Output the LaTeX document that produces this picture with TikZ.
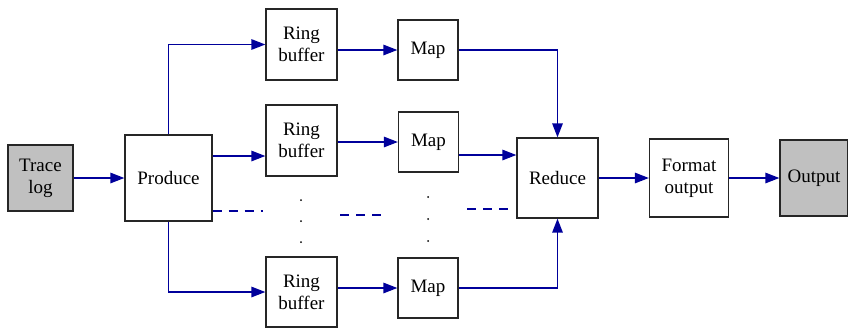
\documentclass[tikz,border=0pt]{standalone}
\usepackage{fontspec}
\setmainfont{Liberation Serif}
\usetikzlibrary{positioning}
\usetikzlibrary{arrows.meta}
\definecolor{flowBlue}{RGB}{0,0,155}
\definecolor{boxGray}{RGB}{192,192,192}
\tikzset{
	stageBox/.style={rectangle, draw=black!85, line width=1.3pt, align=center, inner sep=0pt, font=\fontsize{19}{22}\selectfont},
	ioBox/.style={stageBox, fill=boxGray},
	flow/.style={draw=flowBlue, line width=1.4pt, -{Triangle[length=14pt, width=10.5pt]}},
	gapLine/.style={draw=flowBlue, line width=1.4pt, dash pattern=on 9pt off 7pt},
	gapDot/.style={fill=black, draw=none, circle, inner sep=0pt, minimum size=2pt}
}

\begin{document}
\begin{tikzpicture}[x=1pt, y=-1pt]
	\useasboundingbox (0,0) rectangle (848,327);

	\node[ioBox, minimum width=65pt, minimum height=66pt](traceLog) at (40.5,178){Trace\\log};
	\node[stageBox, minimum width=87pt, minimum height=86pt](produce) at (168.5,178){Produce};

	\node[stageBox, minimum width=71pt, minimum height=71pt](ringBuf1) at (301.5,44.5){Ring\\buffer};
	\node[stageBox, minimum width=60pt, minimum height=60pt](map1) at (428,50){Map};

	\node[stageBox, minimum width=71pt, minimum height=71pt](ringBuf2) at (301.5,140.5){Ring\\buffer};
	\node[stageBox, minimum width=60pt, minimum height=60pt](map2) at (428.5,142){Map};

	\node[stageBox, minimum width=71pt, minimum height=70pt](ringBuf3) at (301.5,292){Ring\\buffer};
	\node[stageBox, minimum width=60pt, minimum height=60pt](map3) at (428,288){Map};

	\node[stageBox, minimum width=81pt, minimum height=80pt](reduce) at (557.5,178){Reduce};
	\node[stageBox, minimum width=79pt, minimum height=78pt](formatOut) at (689,178){Format\\output};
	\node[ioBox, minimum width=68pt, minimum height=76pt](output) at (814,178){Output};

	% elided rows
	\node[gapDot](dotA1) at (301,200){};
	\node[gapDot](dotA2) at (301,221){};
	\node[gapDot](dotA3) at (301,242){};
	\node[gapDot](dotB1) at (428,197){};
	\node[gapDot](dotB2) at (428,219){};
	\node[gapDot](dotB3) at (428,241){};
	\coordinate(gapEnd1) at (263,211);
	\coordinate(gapStart2) at (340,215);
	\coordinate(gapEnd2) at (382,215);
	\coordinate(gapStart3) at (467,209);
	\coordinate(gapEnd3) at (510,209);
	\draw[gapLine] (produce.east |- gapEnd1) -- (gapEnd1);
	\draw[gapLine] (gapStart2) -- (gapEnd2);
	\draw[gapLine] (gapStart3) -- (gapEnd3);

	\coordinate(inBuf2) at ([yshift=-15.5pt]ringBuf2.west);
	\coordinate(outMap2) at ([yshift=-13pt]map2.east);

	\draw[flow] (traceLog.east) -- (produce.west);
	\draw[flow] (produce.north) |- (ringBuf1.west);
	\draw[flow] (produce.east |- inBuf2) -- (inBuf2);
	\draw[flow] (produce.south) |- (ringBuf3.west);

	\draw[flow] (ringBuf1.east |- map1.west) -- (map1.west);
	\draw[flow] (ringBuf2.east |- map2.west) -- (map2.west);
	\draw[flow] (ringBuf3.east |- map3.west) -- (map3.west);

	\draw[flow] (map1.east) -| (reduce.north);
	\draw[flow] (outMap2) -- (reduce.west |- outMap2);
	\draw[flow] (map3.east) -| (reduce.south);

	\draw[flow] (reduce.east) -- (formatOut.west);
	\draw[flow] (formatOut.east) -- (output.west);
\end{tikzpicture}
\end{document}
